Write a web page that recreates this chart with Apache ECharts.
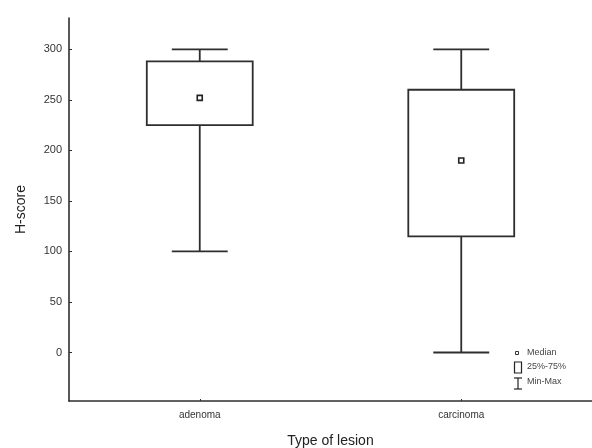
<!DOCTYPE html>
<html>
<head>
<meta charset="utf-8">
<script src="https://cdn.jsdelivr.net/npm/echarts@6/dist/echarts.min.js"></script>
<style>html,body{margin:0;padding:0;background:#fff;}#c{width:592px;height:448px;}</style>
</head>
<body>
<div id="c"></div>
<script>
var categories = ['adenoma', 'carcinoma'];
var minVals = [100, 0];
var q1Vals = [225, 115];
var medianVals = [252, 190];
var q3Vals = [288, 260];
var maxVals = [300, 300];
var yTicks = [0, 50, 100, 150, 200, 250, 300];

var seriesData = categories.map(function (c, i) {
  return [i, minVals[i], q1Vals[i], medianVals[i], q3Vals[i], maxVals[i]];
});

var lineColor = '#2e2e2e';
var chart = echarts.init(document.getElementById('c'), null, {renderer: 'canvas'});
chart.setOption({
  animation: false,
  grid: {left: 69, right: 0, top: 18, bottom: 47, outerBoundsMode: 'none', containLabel: false},
  xAxis: {
    type: 'category',
    data: categories,
    name: 'Type of lesion',
    nameLocation: 'middle',
    nameGap: 33,
    nameTextStyle: {fontFamily: 'Liberation Sans', fontSize: 14, color: '#222'},
    axisLine: {onZero: false, lineStyle: {color: lineColor, width: 1.6}},
    axisTick: {show: true, alignWithLabel: true, length: 2, inside: true, lineStyle: {color: lineColor}},
    axisLabel: {fontFamily: 'Liberation Sans', fontSize: 10, color: '#333', margin: 9},
    splitLine: {show: false}
  },
  yAxis: {
    type: 'value',
    min: -48,
    max: 331,
    name: 'H-score',
    nameLocation: 'middle',
    nameGap: 41,
    nameTextStyle: {fontFamily: 'Liberation Sans', fontSize: 14, color: '#222'},
    axisLine: {show: true, onZero: false, lineStyle: {color: lineColor, width: 1.6}},
    axisTick: {show: true, length: 3, inside: true, customValues: yTicks, lineStyle: {color: lineColor}},
    axisLabel: {fontFamily: 'Liberation Sans', fontSize: 11, color: '#333', margin: 7, customValues: yTicks},
    splitLine: {show: false}
  },
  series: [{
    type: 'custom',
    data: seriesData,
    encode: {x: 0, y: [1, 2, 3, 4, 5]},
    renderItem: function (params, api) {
      var idx = api.value(0);
      var pMin = api.coord([idx, api.value(1)]);
      var pQ1 = api.coord([idx, api.value(2)]);
      var pMed = api.coord([idx, api.value(3)]);
      var pQ3 = api.coord([idx, api.value(4)]);
      var pMax = api.coord([idx, api.value(5)]);
      var band = api.size([1, 0])[0];
      var bw = band * 0.405;
      var cw = band * 0.21;
      var x = pQ1[0];
      var st = {stroke: lineColor, lineWidth: 1.8, fill: null};
      return {
        type: 'group',
        children: [
          {type: 'line', shape: {x1: x, y1: pMax[1], x2: x, y2: pQ3[1]}, style: st},
          {type: 'line', shape: {x1: x - cw / 2 - 0.5, y1: pMax[1], x2: x + cw / 2 + 0.5, y2: pMax[1]}, style: st},
          {type: 'line', shape: {x1: x, y1: pQ1[1], x2: x, y2: pMin[1]}, style: st},
          {type: 'line', shape: {x1: x - cw / 2 - 0.5, y1: pMin[1], x2: x + cw / 2 + 0.5, y2: pMin[1]}, style: st},
          {type: 'rect', shape: {x: x - bw / 2, y: pQ3[1], width: bw, height: pQ1[1] - pQ3[1]}, style: {stroke: lineColor, lineWidth: 1.8, fill: '#fff'}},
          {type: 'rect', shape: {x: x - 2.5, y: pMed[1] - 2.5, width: 5, height: 5}, style: {stroke: '#222', lineWidth: 1.6, fill: '#fff'}}
        ]
      };
    }
  }],
  graphic: [
    {type: 'rect', shape: {x: 515.5, y: 351.5, width: 3, height: 3}, style: {stroke: '#333', lineWidth: 1, fill: '#fff'}},
    {type: 'rect', shape: {x: 514.5, y: 362, width: 7, height: 11}, style: {stroke: '#222', lineWidth: 1.2, fill: '#fff'}},
    {type: 'line', shape: {x1: 518, y1: 378, x2: 518, y2: 389}, style: {stroke: '#222', lineWidth: 1.2}},
    {type: 'line', shape: {x1: 514, y1: 378, x2: 522, y2: 378}, style: {stroke: '#222', lineWidth: 1.2}},
    {type: 'line', shape: {x1: 514, y1: 389, x2: 522, y2: 389}, style: {stroke: '#222', lineWidth: 1.2}},
    {type: 'text', x: 527, y: 353, style: {text: 'Median', fontFamily: 'Liberation Sans', fontSize: 9, fill: '#444', verticalAlign: 'middle'}},
    {type: 'text', x: 527, y: 367, style: {text: '25%-75%', fontFamily: 'Liberation Sans', fontSize: 9, fill: '#444', verticalAlign: 'middle'}},
    {type: 'text', x: 527, y: 382, style: {text: 'Min-Max', fontFamily: 'Liberation Sans', fontSize: 9, fill: '#444', verticalAlign: 'middle'}}
  ]
});
</script>
</body>
</html>
